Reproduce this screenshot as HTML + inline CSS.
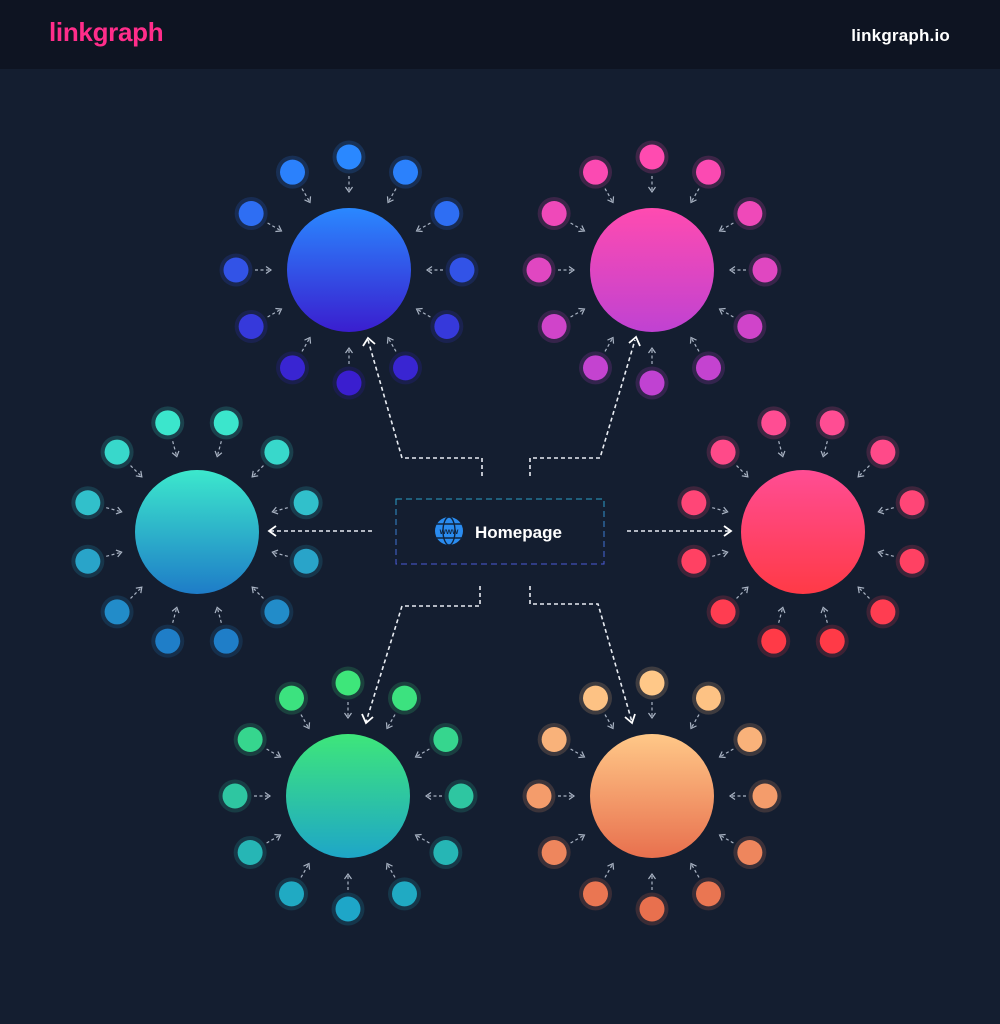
<!DOCTYPE html>
<html><head><meta charset="utf-8"><style>
html,body{margin:0;padding:0;background:#141e30;}
body{width:1000px;height:1024px;overflow:hidden;position:relative;font-family:"Liberation Sans",sans-serif;}
.hdr{position:absolute;left:0;top:0;width:1000px;height:69px;background:#0e1422;}
.logo{position:absolute;left:49px;top:17px;color:#ff2d8a;font-size:26px;font-weight:bold;letter-spacing:-0.3px;}
.site{position:absolute;right:50px;top:26px;color:#fff;font-size:17px;font-weight:bold;letter-spacing:0.2px;}
svg{position:absolute;left:0;top:0;}
</style></head><body>
<div class="hdr"><div class="logo">linkgraph</div><div class="site">linkgraph.io</div></div>
<svg id="s" width="1000" height="1024" viewBox="0 0 1000 1024">
<defs>
<linearGradient id="gb" x1="0" y1="0" x2="0" y2="1"><stop offset="0" stop-color="#2a88ff"/><stop offset="1" stop-color="#3a1ecf"/></linearGradient>
<linearGradient id="gp" x1="0" y1="0" x2="0" y2="1"><stop offset="0" stop-color="#ff4bb0"/><stop offset="1" stop-color="#c042d2"/></linearGradient>
<linearGradient id="gt" x1="0" y1="0" x2="0" y2="1"><stop offset="0" stop-color="#3ce8cc"/><stop offset="1" stop-color="#1e7cc8"/></linearGradient>
<linearGradient id="gr" x1="0" y1="0" x2="0" y2="1"><stop offset="0" stop-color="#ff4d94"/><stop offset="1" stop-color="#ff3a46"/></linearGradient>
<linearGradient id="gg" x1="0" y1="0" x2="0" y2="1"><stop offset="0" stop-color="#3ee67a"/><stop offset="1" stop-color="#1ea6c8"/></linearGradient>
<linearGradient id="go" x1="0" y1="0" x2="0" y2="1"><stop offset="0" stop-color="#ffc888"/><stop offset="1" stop-color="#e8704e"/></linearGradient>
<linearGradient id="gbox" x1="0" y1="0" x2="0" y2="1"><stop offset="0" stop-color="#2aa0c8"/><stop offset="1" stop-color="#4a5ad8"/></linearGradient>
</defs>
<g fill="none" stroke="#e8ecf2" stroke-width="1.6" stroke-dasharray="4 3">
<polyline points="482,476 482,458 402,458 368,340"/>
<polyline points="530,476 530,458 600,458 635,340"/>
<polyline points="372,531 270,531"/>
<polyline points="627,531 730,531"/>
<polyline points="480,586 480,606 402,606 366,722"/>
<polyline points="530,586 530,604 598,604 632,722"/>
</g>
<g fill="none" stroke="#fff" stroke-width="1.8">
<polyline points="363,346 368,338 375,344"/>
<polyline points="629,343 636,337 640,346"/>
<polyline points="276,526 269,531 276,536"/>
<polyline points="724,526 731,531 724,536"/>
<polyline points="362,714 366,723 373,717"/>
<polyline points="625,717 632,723 635,714"/>
</g>
<rect x="396" y="499" width="208" height="65" fill="#141e30" stroke="url(#gbox)" stroke-width="1" stroke-dasharray="6 4"/>
<g>
<circle cx="449" cy="531" r="14" fill="#2a8cf0"/>
<g stroke="#10243e" stroke-width="1.4" fill="none">
<ellipse cx="449" cy="531" rx="6" ry="14"/>
<line x1="435" y1="524" x2="463" y2="524"/>
<line x1="435" y1="538" x2="463" y2="538"/>
</g>
<text x="449" y="534" text-anchor="middle" font-size="8" font-weight="bold" fill="#10243e" font-family="Liberation Sans,sans-serif">www</text>
</g>
<text x="475" y="538" font-size="17" font-weight="bold" fill="#fff" font-family="Liberation Sans,sans-serif">Homepage</text>
</svg>
<script>
const s=document.getElementById('s');const NS='http://www.w3.org/2000/svg';
function el(t,a){const e=document.createElementNS(NS,t);for(const k in a)e.setAttribute(k,a[k]);s.appendChild(e);return e;}
function lerp(c1,c2,t){const a=[1,3,5].map(i=>parseInt(c1.substr(i,2),16)),b=[1,3,5].map(i=>parseInt(c2.substr(i,2),16));return 'rgb('+a.map((v,i)=>Math.round(v+(b[i]-v)*t)).join(',')+')';}
const C=[[349,270,'gb','#2a88ff','#3a1ecf',0],[652,270,'gp','#ff4bb0','#c042d2',0],[197,532,'gt','#3ce8cc','#1e7cc8',15],[803,532,'gr','#ff4d94','#ff3a46',15],[348,796,'gg','#3ee67a','#1ea6c8',0],[652,796,'go','#ffc888','#e8704e',0]];
for(const [cx,cy,g,c1,c2,off] of C){
 for(let i=0;i<12;i++){
  const a=(off+i*30-90)*Math.PI/180,ca=Math.cos(a),sa=Math.sin(a);
  const x=cx+113*ca,y=cy+113*sa;const t=(sa+1)/2;const col=lerp(c1,c2,t);
  el('circle',{cx:x,cy:y,r:16.5,fill:col,opacity:0.18});
  el('circle',{cx:x,cy:y,r:12.5,fill:col});
  const x1=cx+94*ca,y1=cy+94*sa,x2=cx+78*ca,y2=cy+78*sa;
  el('line',{x1:x1,y1:y1,x2:x2,y2:y2,stroke:'#aab4c4','stroke-width':1.2,'stroke-dasharray':'3 2.5'});
  const px=-sa,py=ca;
  el('polyline',{points:(x2+5*ca+3.5*px)+','+(y2+5*sa+3.5*py)+' '+x2+','+y2+' '+(x2+5*ca-3.5*px)+','+(y2+5*sa-3.5*py),fill:'none',stroke:'#aab4c4','stroke-width':1.2});
 }
 el('circle',{cx:cx,cy:cy,r:62,fill:'url(#'+g+')'});
}
</script>
</body></html>
